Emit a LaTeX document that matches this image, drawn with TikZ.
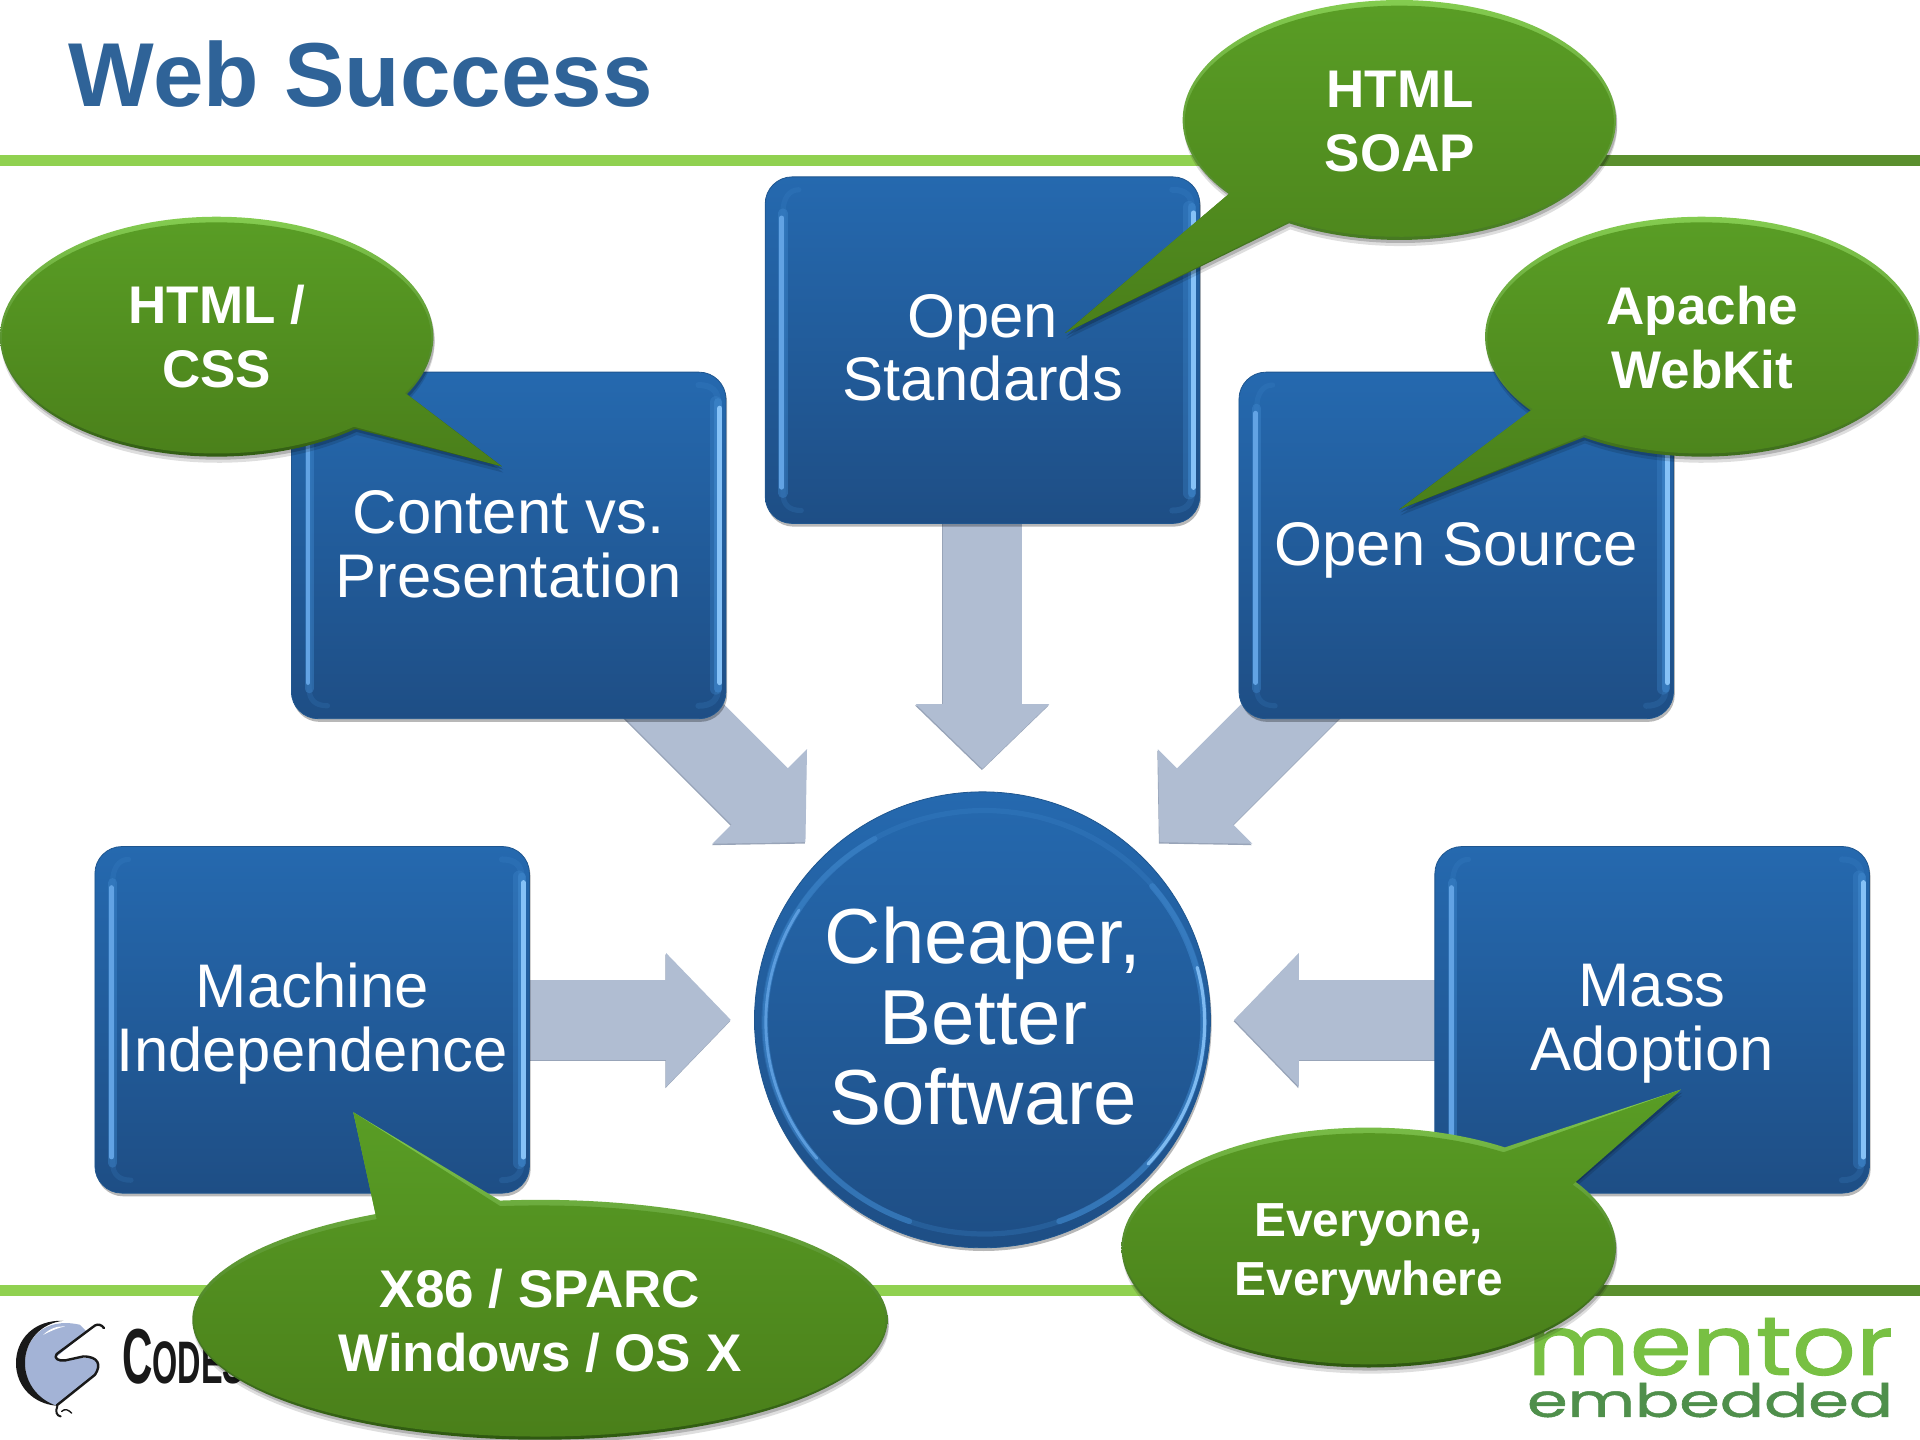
\documentclass[tikz,border=0pt]{standalone}
\usepackage{fontspec}
\usepackage{graphicx}
\setmainfont{Liberation Sans}
\newfontfamily\mentorfont[FakeBold=1]{Poppins}
\usetikzlibrary{arrows.meta,backgrounds,shadows}
\definecolor{titleblue}{HTML}{2F6398}
\definecolor{lightrule}{HTML}{90D150}
\definecolor{darkrule}{HTML}{5A8F2E}
\definecolor{arrowfill}{HTML}{B0BDD2}
\definecolor{arrowedge}{HTML}{98A4B8}
\definecolor{boxtop}{HTML}{2569AF}
\definecolor{boxbot}{HTML}{1E4E85}
\definecolor{boxline}{HTML}{1F568F}
\definecolor{stripehi}{HTML}{86C2F7}
\definecolor{stripemid}{HTML}{3E86CB}
\definecolor{stripeleft}{HTML}{62A3E4}
\definecolor{greentop}{HTML}{599D25}
\definecolor{greenbot}{HTML}{4A7F1A}
\definecolor{bevelhi}{HTML}{84CC50}
\definecolor{bevelmid}{HTML}{548F22}
\definecolor{bevello}{HTML}{2E5810}
\definecolor{logoblue}{HTML}{A3B3D6}
\definecolor{mentorlight}{HTML}{78C043}
\definecolor{mentordark}{HTML}{4F8F4B}
\tikzset{
  x=0.6122pt,y=-0.6122pt,
  softshadow/.style={drop shadow={shadow xshift=0.6pt,shadow yshift=-1.6pt,opacity=.28,fill=black}},
  bluebox/.style={rectangle,rounded corners=13.5pt,minimum width=217.3pt,minimum height=173.3pt,
    inner sep=0pt,draw=boxline,line width=.4pt,top color=boxtop,bottom color=boxbot,softshadow},
  boxlabel/.style={text=white,align=center,inner sep=0pt,font=\fontsize{30.8}{31.8}\selectfont},
  hubnode/.style={circle,minimum size=228pt,inner sep=0pt,draw=boxline,line width=.4pt,
    top color=boxtop,bottom color=boxbot,softshadow},
  hublabel/.style={text=white,align=center,inner sep=0pt,font=\fontsize{39}{40.1}\selectfont},
  bubbletext/.style={text=white,align=center,inner sep=0pt,font=\bfseries\fontsize{26.5}{31.8}\selectfont},
  bubblesmall/.style={text=white,align=center,inner sep=0pt,font=\bfseries\fontsize{23.9}{29.4}\selectfont},
  blockarrow/.style={draw=arrowfill,line width=39.8pt,-{Triangle[length=32.4pt,width=64.9pt]}},
  edgearrow/.style={blockarrow,draw=arrowedge,transform canvas={xshift=-.3pt,yshift=-.7pt}},
  rimline/.style={line cap=round,line join=round},
}
% cx cy name text textdy
\newcommand{\stripedbox}[5]{%
  \node[bluebox] (#3) at (#1,#2) {};
  \draw[rimline,stripemid,line width=3pt,opacity=.22] (#1+155,#2-131) .. controls (#1+166,#2-131) and (#1+171,#2-126) .. (#1+171,#2-117) -- (#1+171,#2+117) .. controls (#1+171,#2+126) and (#1+166,#2+131) .. (#1+155,#2+131);
  \draw[rimline,stripemid,line width=6pt,opacity=.35] (#1+169,#2-117) -- (#1+169,#2+117);
  \draw[rimline,stripemid,line width=4pt,opacity=.6] (#1+171,#2-117) -- (#1+171,#2+117);
  \draw[rimline,stripehi,line width=2.6pt] (#1+172.5,#2-112) -- (#1+172.5,#2+112);
  \draw[rimline,stripemid,line width=2.6pt,opacity=.2] (#1-150,#2-131) .. controls (#1-158,#2-131) and (#1-163,#2-124) .. (#1-163,#2-112) -- (#1-163,#2+117) .. controls (#1-163,#2+126) and (#1-158,#2+131) .. (#1-148,#2+131);
  \draw[rimline,stripemid,line width=4.6pt,opacity=.45] (#1-163,#2-112) -- (#1-163,#2+117);
  \draw[rimline,stripeleft,line width=2.4pt] (#1-164,#2-108) -- (#1-164,#2+112);
  \node[boxlabel] (#3label) at (#1,#2+#5) {#4};
}
% cx cy rx ry t1 t2 tipx tipy
\newcommand{\speechbubble}[8]{%
  \fill[black,opacity=.13] plot[domain=#5:#6,samples=140] ({#1+1+#3*cos(\x)},{#2+5+#4*sin(\x)}) -- (#7+1,#8+5) -- cycle;
  \fill[black,opacity=.2] plot[domain=#5:#6,samples=140] ({#1+1+#3*cos(\x)},{#2+2.5+#4*sin(\x)}) -- (#7+1,#8+2.5) -- cycle;
  \shade[top color=bevelhi,middle color=bevelmid,bottom color=bevello]
    plot[domain=#5:#6,samples=140] ({#1+#3*cos(\x)},{#2+#4*sin(\x)}) -- (#7,#8) -- cycle;
  \shade[top color=greentop,bottom color=greenbot]
    plot[domain=#5:#6,samples=140] ({#1+(#3-1.8)*cos(\x)},{#2+1+(#4-3.6)*sin(\x)}) -- (#7,#8) -- cycle;
}
\begin{document}
\begin{tikzpicture}
\useasboundingbox (0,0) rectangle (1568.3,1176.2);

% Title
\node[anchor=base west,inner sep=0pt,text=titleblue,font=\bfseries\fontsize{45.4}{50}\selectfont] (title) at (56,87) {Web Success};

% Logos
\begin{scope}[shift={(0,1029)},x=.16667pt,y=-.16667pt]
  \fill[logoblue] (240,195) .. controls (130,170) and (75,240) .. (75,310)
     .. controls (75,380) and (120,430) .. (170,437) -- (285,345)
     .. controls (300,320) and (295,295) .. (270,292) -- (200,300) -- (165,295) -- (260,215) -- cycle;
  \fill[white] (130,225) .. controls (150,205) and (175,198) .. (195,200) .. controls (170,205) and (150,215) .. (130,225) -- cycle;
  \fill[black!90] (190,183) .. controls (100,180) and (48,240) .. (48,310)
     .. controls (48,380) and (100,432) .. (170,438)
     .. controls (115,420) and (75,370) .. (75,310)
     .. controls (75,240) and (125,190) .. (190,183) -- cycle;
  \draw[black!90,line width=1.2pt,rimline] (170,437) -- (285,345) .. controls (305,315) and (295,290) .. (250,290)
     -- (195,302) .. controls (175,305) and (160,295) .. (170,283) -- (285,197) .. controls (295,192) and (305,195) .. (312,205);
  \draw[black!90,line width=1pt,rimline] (172,440) .. controls (165,455) and (170,468) .. (182,470);
  \draw[black!90,line width=.7pt,rimline] (185,455) .. controls (195,445) and (205,450) .. (215,460);
  \node[anchor=base west,inner sep=0pt,text=black!90,font=\bfseries] (codes) at (365,372)
    {\scalebox{.54}[1]{\fontsize{39}{39}\selectfont C\fontsize{30}{30}\selectfont ODES}};
\end{scope}
\node[anchor=south west,inner sep=0pt,text=mentorlight] (mentor) at (1247,1124)
  {\resizebox{183pt}{28.5pt}{\mentorfont mentor}};
\node[anchor=south west,inner sep=0pt,text=mentordark] (embedded) at (1247,1158)
  {\resizebox{183pt}{17pt}{\mentorfont embedded}};

% Boxes and hub
\stripedbox{415.5}{445.5}{content}{Content vs.\\Presentation}{-1}
\stripedbox{802.5}{286}{standards}{Open\\Standards}{-2}
\stripedbox{1189.5}{445.5}{source}{Open Source}{4}
\stripedbox{255}{833}{machine}{Machine\\Independence}{3}
\stripedbox{1349.5}{833}{mass}{Mass\\Adoption}{3}

\node[hubnode] (hub) at (802.5,833) {};
\draw[rimline,stripemid,line width=2.6pt,opacity=.28] plot[domain=0:360,samples=120] ({804+180*cos(\x)},{835+173*sin(\x)});
\draw[rimline,stripemid,line width=2.8pt,opacity=.55] plot[domain=110:240,samples=60] ({804+179*cos(\x)},{835+173*sin(\x)});
\draw[rimline,stripeleft,line width=1.4pt,opacity=.85] plot[domain=140:212,samples=60] ({804+178.5*cos(\x)},{835+173*sin(\x)});
\draw[rimline,stripemid,line width=3pt,opacity=.6] plot[domain=-40:70,samples=60] ({804+179*cos(\x)},{835+173*sin(\x)});
\draw[rimline,stripehi,line width=1.6pt,opacity=.9] plot[domain=-15:42,samples=60] ({804+180*cos(\x)},{835+173*sin(\x)});
\node[hublabel] (hublabel) at (803,830) {Cheaper,\\Better\\Software};

% Arrow tips
\coordinate (tipcontent) at (658,688);
\coordinate (tipstandards) at (802.5,628);
\coordinate (tipsource) at (947,688);
\coordinate (tipmachine) at (597,833);
\coordinate (tipmass) at (1008,833);

\begin{scope}[on background layer]
  \fill[lightrule] (0,127) rectangle (1150,135.3);
  \fill[darkrule] (1150,127) rectangle (1568.3,135.3);
  \fill[lightrule] (0,1050) rectangle (1120,1058.3);
  \fill[darkrule] (1120,1050) rectangle (1568.3,1058.3);
  \draw[edgearrow] (content.center) -- (tipcontent);
  \draw[edgearrow] (standards.center) -- (tipstandards);
  \draw[edgearrow] (source.center) -- (tipsource);
  \draw[edgearrow] (machine.center) -- (tipmachine);
  \draw[edgearrow] (mass.center) -- (tipmass);
  \draw[blockarrow] (content.center) -- (tipcontent);
  \draw[blockarrow] (standards.center) -- (tipstandards);
  \draw[blockarrow] (source.center) -- (tipsource);
  \draw[blockarrow] (machine.center) -- (tipmachine);
  \draw[blockarrow] (mass.center) -- (tipmass);
\end{scope}

% Callouts
\speechbubble{1143}{98}{177}{98}{141.9}{480.6}{870}{272}
\node[bubbletext] (soap) at (1143.5,99.5) {HTML\\SOAP};
\speechbubble{177}{275}{177}{98}{50.2}{388.6}{410}{381}
\node[bubbletext] (css) at (177,275) {HTML /\\CSS};
\speechbubble{1390}{275}{177}{98}{142}{483}{1143}{416}
\node[bubbletext] (apache) at (1390.5,275.5) {Apache\\WebKit};
\speechbubble{441}{1078}{284}{98}{263.4}{601.8}{288.6}{908.5}
\node[bubbletext] (x86) at (441,1079) {X86 / SPARC\\Windows / OS X};
\speechbubble{1118}{1019}{202}{98}{326.3}{663.4}{1373}{890}
\node[bubblesmall] (everyone) at (1118,1024.5) {Everyone,\\Everywhere};
\end{tikzpicture}
\end{document}
